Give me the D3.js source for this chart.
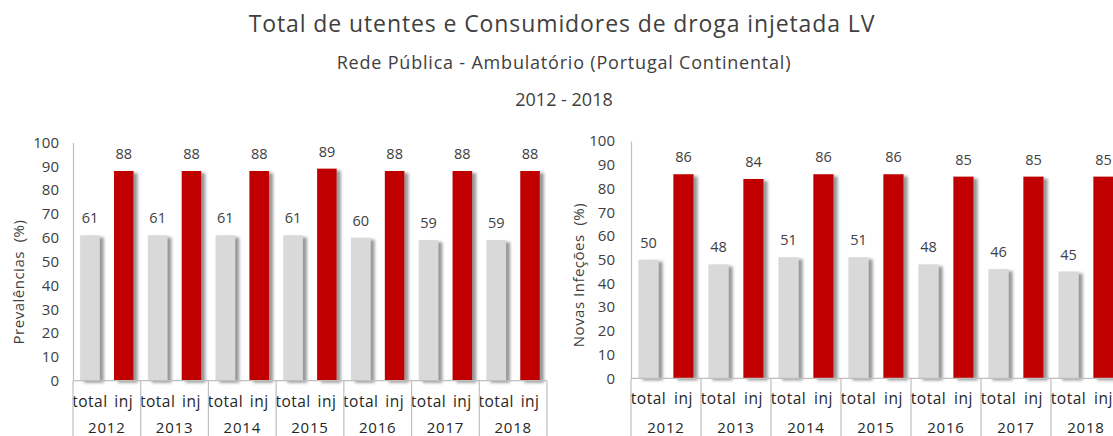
<!DOCTYPE html>
<html>
<head>
<meta charset="utf-8">
<script src="https://cdn.jsdelivr.net/npm/d3@7"></script>
<style>
  html, body { margin: 0; padding: 0; background: #ffffff; }
  svg { display: block; }
  text { font-family: "Open Sans", "Noto Sans", sans-serif; }
</style>
</head>
<body>
<svg id="chart" width="1113" height="436"></svg>
<script>
// ---- data ----
const years = ["2012", "2013", "2014", "2015", "2016", "2017", "2018"];
const subCategories = ["total", "inj"];
const prevalenciasTotal = [61, 61, 61, 61, 60, 59, 59];
const prevalenciasInj = [88, 88, 88, 89, 88, 88, 88];
const novasTotal = [50, 48, 51, 51, 48, 46, 45];
const novasInj = [86, 84, 86, 86, 85, 85, 85];
const yTicks = [0, 10, 20, 30, 40, 50, 60, 70, 80, 90, 100];
const titleText = "Total de utentes e Consumidores de droga injetada LV";
const subtitleText = "Rede Pública - Ambulatório (Portugal Continental)";
const periodText = "2012 - 2018";
const leftAxisTitle = "Prevalências  (%)";
const rightAxisTitle = "Novas Infeções  (%)";

// ---- styling ----
const colors = { total: "#d9d9d9", inj: "#c00000" };
const textColor = "#404040";
const lineColor = "#bfbfbf";

const svg = d3.select("#chart");
const defs = svg.append("defs");
const f = defs.append("filter").attr("id", "shadow")
  .attr("x", "-20%").attr("y", "-10%").attr("width", "160%").attr("height", "130%");
f.append("feDropShadow").attr("dx", 4).attr("dy", 2).attr("stdDeviation", 1.6)
  .attr("flood-color", "#7f7f7f").attr("flood-opacity", 0.8);

// titles
svg.append("text").attr("x", 562).attr("y", 32).attr("text-anchor", "middle")
  .attr("font-size", 23).attr("letter-spacing", 0.9).attr("fill", textColor).text(titleText);
svg.append("text").attr("x", 564).attr("y", 69).attr("text-anchor", "middle")
  .attr("font-size", 18).attr("letter-spacing", 0.8).attr("fill", textColor).text(subtitleText);
svg.append("text").attr("x", 564).attr("y", 106).attr("text-anchor", "middle")
  .attr("font-size", 18).attr("fill", textColor).text(periodText);

function panel(cfg) {
  const g = svg.append("g");
  const y = d3.scaleLinear().domain([0, 100]).range([cfg.y0, cfg.y100]);
  const x0 = d3.scaleBand().domain(years).range([cfg.x0, cfg.x1]).padding(0);
  const x1 = d3.scaleBand().domain(subCategories).range([0, x0.bandwidth()])
    .paddingInner(0.42).paddingOuter(0.21);

  const data = years.map((yr, i) => ({
    year: yr,
    values: [
      { key: "total", value: cfg.total[i] },
      { key: "inj", value: cfg.inj[i] }
    ]
  }));

  // y axis
  const yAxis = d3.axisLeft(y).tickValues(yTicks).tickSize(0).tickPadding(cfg.tickPad);
  const ya = g.append("g").attr("transform", `translate(${cfg.x0},0)`).call(yAxis);
  ya.select(".domain").attr("stroke", lineColor).attr("stroke-width", 1.2);
  ya.selectAll("text").attr("font-size", 15).attr("fill", textColor)
    .attr("font-family", '"Open Sans", sans-serif');

  // axis title
  g.append("text")
    .attr("transform", `translate(${cfg.titleX},${cfg.titleY}) rotate(-90)`)
    .attr("text-anchor", "middle").attr("dominant-baseline", "central")
    .attr("font-size", 15).attr("letter-spacing", 0.5).attr("fill", textColor).style("white-space", "pre")
    .text(cfg.axisTitle);

  // bars
  const groups = g.selectAll("g.grp").data(data).join("g").attr("class", "grp")
    .attr("transform", d => `translate(${x0(d.year)},0)`);
  groups.selectAll("rect").data(d => d.values).join("rect")
    .attr("x", d => x1(d.key)).attr("width", x1.bandwidth())
    .attr("y", d => y(d.value)).attr("height", d => y(0) - y(d.value))
    .attr("fill", d => colors[d.key]).attr("filter", "url(#shadow)");
  groups.selectAll("text.val").data(d => d.values).join("text").attr("class", "val")
    .attr("x", d => x1(d.key) + x1.bandwidth() / 2)
    .attr("y", d => y(d.value) - 12)
    .attr("text-anchor", "middle").attr("font-size", 14.5).attr("fill", textColor)
    .text(d => d.value);

  // category axis (two-level)
  g.append("line").attr("x1", cfg.x0).attr("x2", cfg.x1).attr("y1", y(0)).attr("y2", y(0))
    .attr("stroke", lineColor).attr("stroke-width", 1.2);
  const bounds = years.map(yr => x0(yr)).concat([cfg.x1]);
  g.selectAll("line.sep").data(bounds).join("line").attr("class", "sep")
    .attr("x1", d => d).attr("x2", d => d).attr("y1", y(0)).attr("y2", 440)
    .attr("stroke", lineColor).attr("stroke-width", 1.2);
  groups.selectAll("text.sub").data(subCategories).join("text").attr("class", "sub")
    .attr("x", d => x1(d) + x1.bandwidth() / 2).attr("y", cfg.y0 + 26)
    .attr("text-anchor", "middle").attr("font-size", 15.5).attr("letter-spacing", 0.5)
    .attr("fill", "#262626").text(d => d);
  groups.append("text").attr("x", x0.bandwidth() / 2).attr("y", 433)
    .attr("text-anchor", "middle").attr("font-size", 15).attr("letter-spacing", 0.8)
    .attr("fill", "#262626").text(d => d.year);
}

panel({ x0: 73, x1: 547, y0: 380.7, y100: 142.4, tickPad: 14,
  total: prevalenciasTotal, inj: prevalenciasInj,
  axisTitle: leftAxisTitle, titleX: 18, titleY: 282 });
panel({ x0: 631, x1: 1121, y0: 378.3, y100: 141, tickPad: 16,
  total: novasTotal, inj: novasInj,
  axisTitle: rightAxisTitle, titleX: 578, titleY: 275 });
</script>
</body>
</html>
